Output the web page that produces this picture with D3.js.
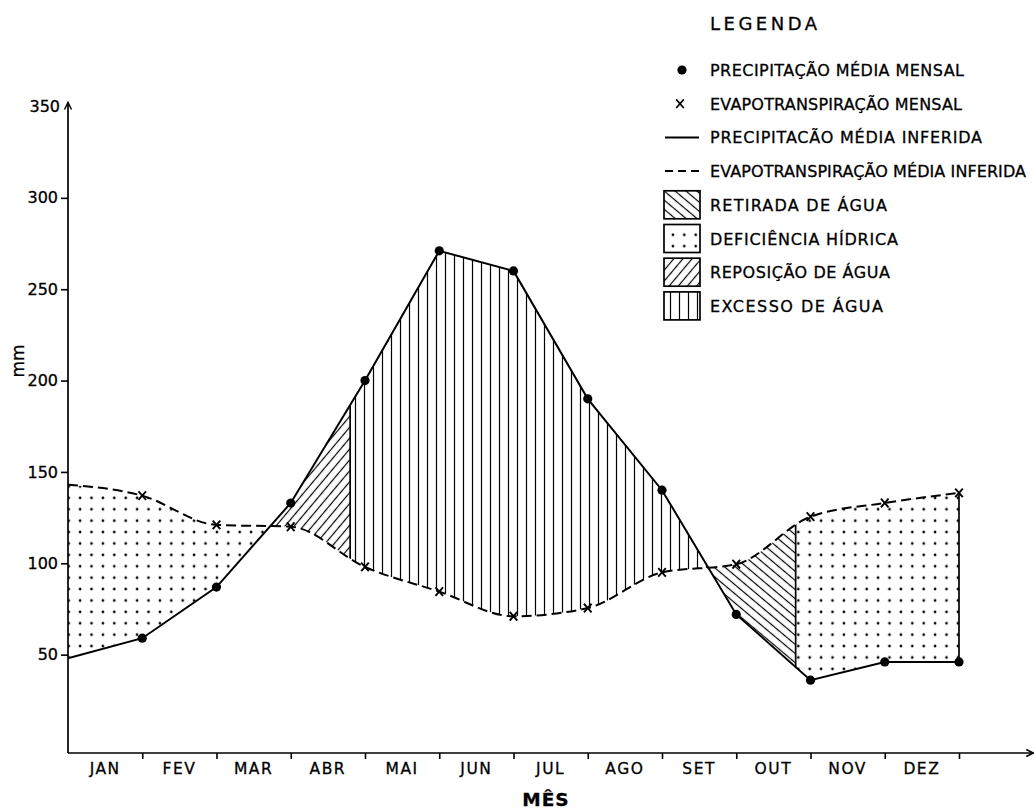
<!DOCTYPE html>
<html><head><meta charset="utf-8">
<script src="https://cdn.jsdelivr.net/npm/d3@7"></script>
<style>
body{margin:0;background:#fff;}
svg{display:block;background:#fff;}
text{font-family:"DejaVu Sans",sans-serif;fill:#000;stroke:#000;stroke-width:0.3px;}
</style></head><body>
<svg id="chart" width="1034" height="810"></svg>
<script>
// ---------- DATA ----------
const months = ["JAN","FEV","MAR","ABR","MAI","JUN","JUL","AGO","SET","OUT","NOV","DEZ"];
const precipStart = [48];                 // inferred value at start of year (no marker)
const precipMonthly = [59, 87, 133, 200, 271, 260, 190, 140, 72, 36, 46, 46];
const evapoStart = [143];
const evapoMonthly = [137, 121, 120, 98, 84.5, 71, 75.5, 95, 99.5, 125.5, 133, 138.5];
const yTicks = [50, 100, 150, 200, 250, 300, 350];
// water balance phases (month position, 0 = start of JAN, 12 = end of DEZ)
const phaseKey   = ["def", "rep", "exc", "ret", "def"];
const phaseStart = [0, 2, 3.8, 8, 9.8];
const phaseEnd   = [3, 3.8, 9, 9.8, 12];
const phaseWet   = [false, true, true, false, false];   // true: precipitation above evapotranspiration
const legendLabels = ["PRECIPITAÇÃO MÉDIA MENSAL","EVAPOTRANSPIRAÇÃO MENSAL","PRECIPITACÃO MÉDIA INFERIDA",
  "EVAPOTRANSPIRAÇÃO MÉDIA INFERIDA","RETIRADA DE ÁGUA","DEFICIÊNCIA HÍDRICA","REPOSIÇÃO DE ÁGUA","EXCESSO DE ÁGUA"];
const legendSymbols = ["dot","x","solid","dash","ret","def","rep","exc"];

// ---------- LAYOUT ----------
const W = 1034, H = 810;
const legendTextW = [254, 252, 272, 316, 177, 188, 180, 173];
const svg = d3.select("#chart");
const x = d3.scaleLinear().domain([0, 12]).range([68, 959]);
const y = d3.scaleLinear().domain([0, 350]).range([746, 106.5]);
const axisY = 753;

const P = [{m:0, v:precipStart[0]}].concat(precipMonthly.map((v,i)=>({m:i+1, v})));
const E = [{m:0, v:evapoStart[0]}].concat(evapoMonthly.map((v,i)=>({m:i+1, v})));

const defs = svg.append("defs");
// patterns
function linePattern(id, spacing, angle, sw) {
  const p = defs.append("pattern").attr("id", id).attr("patternUnits","userSpaceOnUse")
    .attr("width", spacing).attr("height", 20)
    .attr("patternTransform", `rotate(${angle})`);
  p.append("line").attr("x1", spacing/2).attr("x2", spacing/2).attr("y1", -1).attr("y2", 21)
    .attr("stroke","#000").attr("stroke-width", sw);
}
linePattern("pat-exc", 9, 0, 1.2);
linePattern("pat-rep", 7, 40, 1.2);
linePattern("pat-ret", 7, -50, 1.2);
const dp = defs.append("pattern").attr("id","pat-def").attr("patternUnits","userSpaceOnUse")
  .attr("width", 11.4).attr("height", 11.4).attr("x", 6).attr("y", 2);
dp.append("circle").attr("cx", 5.7).attr("cy", 5.7).attr("r", 1.35).attr("fill","#000");

// clip paths
const lineP = d3.line().x(d=>x(d.m)).y(d=>y(d.v));
const lineE = d3.line().x(d=>x(d.m)).y(d=>y(d.v)).curve(d3.curveMonotoneX);
function clipArea(curve, y0) {
  const a = d3.area().x(d=>x(d.m)).y0(y0).y1(d=>y(d.v));
  if (curve) a.curve(curve);
  return a;
}
defs.append("clipPath").attr("id","belowP").append("path").attr("d", clipArea(null, H)(P));
defs.append("clipPath").attr("id","aboveP").append("path").attr("d", clipArea(null, 0)(P));
defs.append("clipPath").attr("id","belowE").append("path").attr("d", clipArea(d3.curveMonotoneX, H)(E));
defs.append("clipPath").attr("id","aboveE").append("path").attr("d", clipArea(d3.curveMonotoneX, 0)(E));

// phase fills
phaseKey.forEach((k, i) => {
  const outer = svg.append("g").attr("clip-path", phaseWet[i] ? "url(#belowP)" : "url(#aboveP)");
  const inner = outer.append("g").attr("clip-path", phaseWet[i] ? "url(#aboveE)" : "url(#belowE)");
  inner.append("rect").attr("x", x(phaseStart[i])).attr("width", x(phaseEnd[i]) - x(phaseStart[i]))
    .attr("y", 0).attr("height", H).attr("fill", `url(#pat-${k})`);
});
// phase boundary lines
[[phaseStart[2], true], [phaseStart[4], false]].forEach(([m, wet]) => {
  svg.append("g").attr("clip-path", wet ? "url(#belowP)" : "url(#aboveP)")
    .append("g").attr("clip-path", wet ? "url(#aboveE)" : "url(#belowE)")
    .append("line").attr("x1", x(m)).attr("x2", x(m)).attr("y1", 0).attr("y2", H)
    .attr("stroke","#000").attr("stroke-width", 1.7);
});
// right edge of deficiency
svg.append("line").attr("x1", x(12)).attr("x2", x(12))
  .attr("y1", y(precipMonthly[11])).attr("y2", y(evapoMonthly[11]))
  .attr("stroke","#000").attr("stroke-width", 1.7);

// curves
svg.append("path").attr("d", lineP(P)).attr("fill","none").attr("stroke","#000").attr("stroke-width", 2);
svg.append("path").attr("d", lineE(E)).attr("fill","none").attr("stroke","#000").attr("stroke-width", 2)
  .attr("stroke-dasharray","10,5");

// markers
svg.selectAll(".pdot").data(P.slice(1)).join("circle").attr("class","pdot")
  .attr("cx", d=>x(d.m)).attr("cy", d=>y(d.v)).attr("r", 4.6).attr("fill","#000");
const xMark = "M-3.8,-4.3L3.8,4.3M-3.8,4.3L3.8,-4.3";
svg.selectAll(".emark").data(E.slice(1)).join("path").attr("class","emark")
  .attr("transform", d=>`translate(${x(d.m)},${y(d.v)})`).attr("d", xMark)
  .attr("stroke","#000").attr("stroke-width", 1.9).attr("fill","none");

// axes
const gx = svg.append("g").attr("transform", `translate(0,${axisY})`)
  .call(d3.axisBottom(x).tickValues(d3.range(1, 13)).tickSize(6).tickFormat(""));
gx.select(".domain").remove();
gx.selectAll(".tick line").attr("stroke","#000").attr("stroke-width", 1.6);
const xEnd = x(13);
svg.append("path").attr("d", `M${x(0)},${axisY}L${xEnd},${axisY}`).attr("stroke","#000").attr("stroke-width",1.7).attr("fill","none");
svg.append("path").attr("d", `M${xEnd-7},${axisY-3.5}L${xEnd},${axisY}L${xEnd-7},${axisY+3.5}`)
  .attr("stroke","#000").attr("stroke-width",1.5).attr("fill","none");
svg.selectAll(".mlab").data(months).join("text").attr("class","mlab")
  .attr("x", (d,i)=>x(i+0.5)).attr("y", 773.5).attr("text-anchor","middle")
  .attr("font-size", 15.5).attr("letter-spacing", 1.5).text(d=>d);

const gy = svg.append("g").attr("transform", `translate(${x(0)},0)`)
  .call(d3.axisLeft(y).tickValues(yTicks).tickSize(7).tickPadding(3));
gy.select(".domain").remove();
gy.selectAll(".tick line").attr("stroke","#000").attr("stroke-width", 1.6)
  .filter(d => d === d3.max(yTicks)).remove();
gy.selectAll(".tick text").attr("font-size", 16).attr("fill","#000")
  .style("font-family", '"DejaVu Sans", sans-serif');
gy.selectAll(".tick").filter(d => d === d3.max(yTicks)).select("text").attr("x", -8);
const yTop = y(d3.max(yTicks)) - 4;
svg.append("path").attr("d", `M${x(0)},${axisY}L${x(0)},${yTop}`).attr("stroke","#000").attr("stroke-width",1.7).attr("fill","none");
svg.append("path").attr("d", `M${x(0)-3.5},${yTop+7}L${x(0)},${yTop}L${x(0)+3.5},${yTop+7}`)
  .attr("stroke","#000").attr("stroke-width",1.5).attr("fill","none");

svg.append("text").attr("transform","translate(24,361) rotate(-90)").attr("text-anchor","middle")
  .attr("font-size", 17).text("mm");
svg.append("text").attr("x", 546).attr("y", 806).attr("text-anchor","middle")
  .attr("font-size", 18.5).attr("font-weight","bold").attr("letter-spacing", 1).text("MÊS");

// legend
svg.append("text").attr("x", 710).attr("y", 30).attr("font-size", 18)
  .attr("textLength", 107).attr("lengthAdjust","spacing").text("LEGENDA");
const lg = svg.append("g");
legendSymbols.forEach((s, i) => {
  const cy = 70 + i * 33.7;
  const row = lg.append("g").attr("transform", `translate(0,${cy})`);
  if (s === "dot") row.append("circle").attr("cx", 682).attr("cy", 0).attr("r", 4.6).attr("fill","#000");
  else if (s === "x") row.append("path").attr("transform","translate(680,0)").attr("d", xMark)
    .attr("stroke","#000").attr("stroke-width",1.7);
  else if (s === "solid") row.append("line").attr("x1",665).attr("x2",699).attr("stroke","#000").attr("stroke-width",2);
  else if (s === "dash") row.append("line").attr("x1",665).attr("x2",699).attr("stroke","#000").attr("stroke-width",2)
    .attr("stroke-dasharray","8,5");
  else row.append("rect").attr("x",664).attr("y",-14).attr("width",36).attr("height",28)
    .attr("fill",`url(#pat-${s})`).attr("stroke","#000").attr("stroke-width",1.7);
  row.append("text").attr("x", 710).attr("y", 6).attr("font-size", 16)
    .attr("textLength", legendTextW[i]).attr("lengthAdjust","spacing").text(legendLabels[i]);
});
</script>
</body></html>
